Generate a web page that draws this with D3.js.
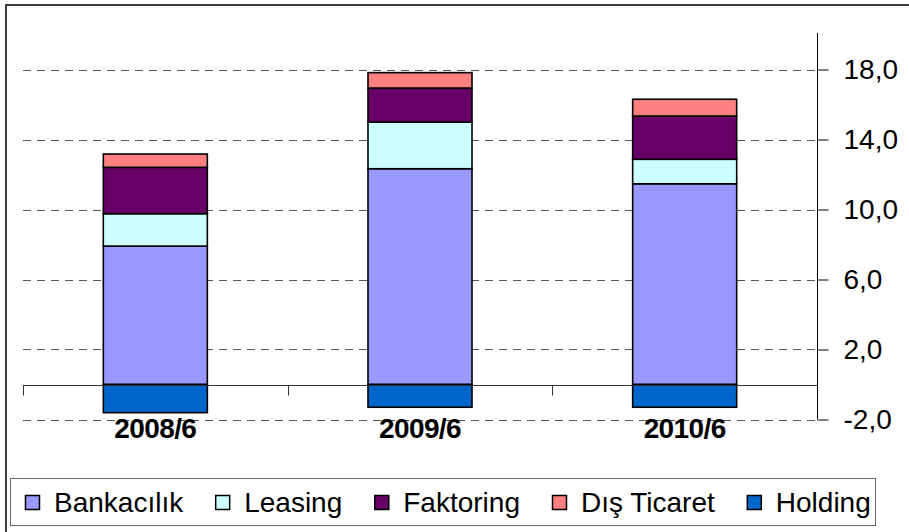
<!DOCTYPE html>
<html><head><meta charset="utf-8">
<script src="https://cdn.jsdelivr.net/npm/d3@7"></script>
<style>
html,body{margin:0;padding:0;background:#fff;overflow:hidden}
svg{display:block;font-family:"Liberation Sans",Arial,sans-serif}
</style></head>
<body>
<svg id="c" width="909" height="532"></svg>
<script>
const categories = ["2008/6", "2009/6", "2010/6"];
const seriesNames = ["Bankacılık", "Leasing", "Faktoring", "Dış Ticaret", "Holding"];
const bankacilik = [7.91, 12.33, 11.47];
const leasing = [1.85, 2.67, 1.40];
const faktoring = [2.65, 1.94, 2.47];
const disTicaret = [0.76, 0.88, 0.96];
const holding = [-1.61, -1.30, -1.30];
const yTicks = [-2, 2, 6, 10, 14, 18];
const colors = ["#9999FF", "#CCFFFF", "#660066", "#FF8080", "#0066CC"];

const seriesValues = [bankacilik, leasing, faktoring, disTicaret, holding];
const rows = categories.map((c, i) => {
  const r = {cat: c};
  seriesNames.forEach((s, j) => r[s] = seriesValues[j][i]);
  return r;
});

const svg = d3.select("#c");
const fmt = d => d3.format(".1f")(d).replace(".", ",").replace("\u2212", "-");

const x = d3.scaleBand().domain(categories).range([23, 817]).paddingInner(0.607).paddingOuter(0.3035);
const y = d3.scaleLinear().domain([-2, 20]).range([419.5, 34.5]);

// outer frame
svg.append("rect").attr("x", 6).attr("y", 5).attr("width", 1000).attr("height", 1000)
  .attr("fill", "none").attr("stroke", "#404040").attr("stroke-width", 2);

// gridlines
svg.append("g").selectAll("line").data(yTicks).join("line")
  .attr("x1", 23).attr("x2", 817)
  .attr("y1", d => Math.round(y(d)) + 0.5).attr("y2", d => Math.round(y(d)) + 0.5)
  .attr("stroke", "#555").attr("stroke-width", 1).attr("stroke-dasharray", "8,6");

// bars
const stack = d3.stack().keys(seriesNames).offset(d3.stackOffsetDiverging);
const stacked = stack(rows);
svg.append("g").selectAll("g").data(stacked).join("g")
  .attr("fill", (d, i) => colors[i])
  .selectAll("rect").data(d => d).join("rect")
  .attr("x", d => x(d.data.cat))
  .attr("width", x.bandwidth())
  .attr("y", d => y(Math.max(d[0], d[1])))
  .attr("height", d => Math.abs(y(d[0]) - y(d[1])))
  .attr("stroke", "#000").attr("stroke-width", 1.6);

// x axis at zero
const y0 = Math.round(y(0)) + 0.5;
svg.append("line").attr("x1", 23).attr("x2", 817).attr("y1", y0).attr("y2", y0)
  .attr("stroke", "#333").attr("stroke-width", 1);
svg.append("g").selectAll("line").data(categories).join("line")
  .attr("x1", d => Math.round(x(d) - x.step() * x.paddingOuter()) + 0.5)
  .attr("x2", d => Math.round(x(d) - x.step() * x.paddingOuter()) + 0.5)
  .attr("y1", y0).attr("y2", y0 + 10)
  .attr("stroke", "#333").attr("stroke-width", 1);

// category labels
svg.append("g").selectAll("text").data(categories).join("text")
  .attr("x", d => x(d) + x.bandwidth() / 2).attr("y", 438)
  .attr("text-anchor", "middle").attr("font-weight", "bold").attr("font-size", 28)
  .attr("letter-spacing", -0.6)
  .attr("fill", "#000").text(d => d);

// y axis on right
const yAxis = d3.axisRight(y).tickValues(yTicks).tickSize(11).tickPadding(15).tickFormat(fmt);
const ga = svg.append("g").attr("transform", "translate(817.5,0)").call(yAxis);
ga.select(".domain").attr("d", `M0,${y(-2)}V33`).attr("stroke", "#000");
ga.selectAll(".tick line").attr("stroke", "#000");
ga.selectAll(".tick text").attr("font-size", 28).attr("fill", "#000")
  .attr("font-family", "'Liberation Sans',Arial,sans-serif");

// legend
svg.append("rect").attr("x", 10.5).attr("y", 478.5).attr("width", 865).attr("height", 47)
  .attr("fill", "#fff").attr("stroke", "#666").attr("stroke-width", 1);
const lg = svg.append("g");
let lx = 25;
seriesNames.forEach((s, i) => {
  const g = lg.append("g").attr("transform", `translate(${lx},0)`);
  g.append("rect").attr("x", 0.5).attr("y", 495.5).attr("width", 14).attr("height", 14)
    .attr("fill", colors[i]).attr("stroke", "#000").attr("stroke-width", 1.5);
  const t = g.append("text").attr("x", 29).attr("y", 511.5).attr("font-size", 28)
    .attr("fill", "#000").text(s);
  const w = t.node().getComputedTextLength();
  lx += 29 + w + 32;
});
</script>
</body></html>
